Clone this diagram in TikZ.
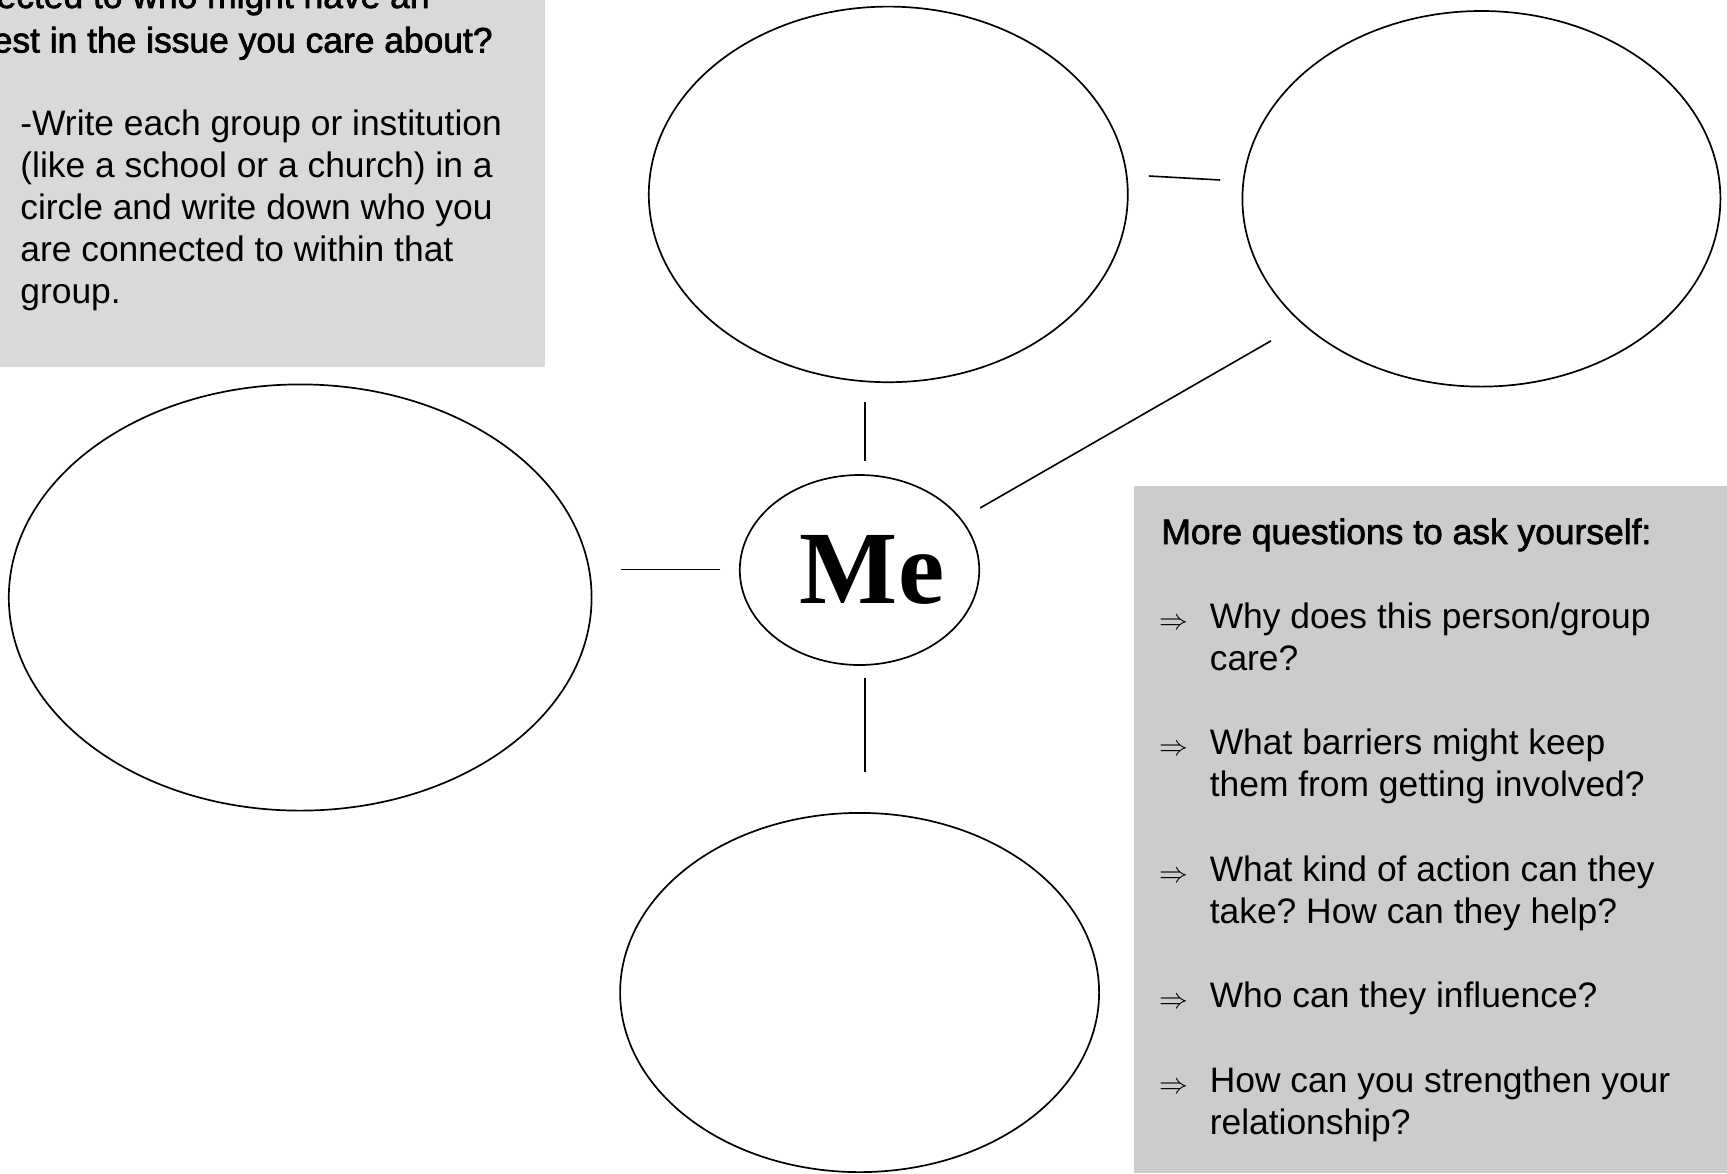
\documentclass[tikz,border=0pt]{standalone}
\usepackage{fontspec}
\setmainfont{Liberation Sans}
\newfontfamily\headfont{Liberation Sans}[FakeBold=2]
\newfontfamily\mefont{Liberation Serif}
\usetikzlibrary{shapes.geometric,calc}
\definecolor{panelA}{HTML}{D9D9D9}
\definecolor{panelB}{HTML}{CCCCCC}
\frenchspacing
\tikzset{
  bubble/.style={draw=black, line width=0.85pt, ellipse, inner sep=0pt, fill=white},
  link/.style={draw=black, line width=0.8pt},
  body/.style={inner sep=0pt, anchor=base west, font=\fontsize{17.7}{21.1}\selectfont},
  head/.style={inner sep=0pt, font=\headfont\fontsize{17.7}{21.1}\selectfont},
  arrowmark/.style={inner sep=0pt, anchor=base west, font=\fontsize{15}{15}\selectfont},
}
\begin{document}
\begin{tikzpicture}[x=0.5pt,y=-0.5pt]
\useasboundingbox (0,0) rectangle (1727,1173);
\fill[white] (0,0) rectangle (1727,1173);
% panels
\fill[panelA] (0,0) rectangle (545,367);
\fill[panelB] (1134,486) rectangle (1727,1173);

% bubbles
\node[bubble, minimum width=239.5pt, minimum height=187.8pt] (top) at (888.3,194.4) {};
\node[bubble, minimum width=239pt, minimum height=187.8pt] (topright) at (1481.4,198.8) {};
\node[bubble, minimum width=291.4pt, minimum height=213.1pt] (left) at (300.2,597.5) {};
\node[bubble, minimum width=239.5pt, minimum height=179.6pt] (bottom) at (859.6,992.5) {};
\node[bubble, minimum width=119.5pt, minimum height=95pt,
      font=\mefont\bfseries\fontsize{52}{52}\selectfont] (me) at (859.5,570) {\hspace*{12.5pt}Me};

% connectors
\draw[link] ([shift={(5.5,-13.5)}]me.north) -- ([shift={(-23.3,18.8)}]top.south);
\draw[link] ([shift={(5.5,12)}]me.south) -- ([shift={(5.4,-39.8)}]bottom.north);
\draw[link] ([shift={(-18.6,-0.6)}]me.west) -- ([shift={(28.5,-28.1)}]left.east);
\draw[link] ([shift={(0,-62)}]me.east) -- ([shift={(-210.4,-46.6)}]topright.south);
\draw[link] ([shift={(20.2,-18.4)}]top.east) -- ([shift={(-21.4,-18.8)}]topright.west);

% top-left panel text
\node[head, anchor=base east] (t1) at (430,8) {ected to who might have an};
\node[head, anchor=base east] (t2) at (493,52.5) {est in the issue you care about?};
\node[body] (lbody) at (20,135) {\parbox[t]{300pt}{-Write each group or institution\\(like a school or a church) in a\\circle and write down who you\\are connected to within that\\group.}};

% right panel text
\node[head, anchor=base west] (rhead) at (1161,544) {More questions to ask yourself:};
\node[arrowmark] (a1) at (1159,629.5) {$\Rightarrow$};
\node[body] (q1) at (1209.4,628.3) {\parbox[t]{300pt}{Why does this person/group\\care?}};
\node[arrowmark] (a2) at (1159,755.5) {$\Rightarrow$};
\node[body] (q2) at (1209.4,754.4) {\parbox[t]{300pt}{What barriers might keep\\them from getting involved?}};
\node[arrowmark] (a3) at (1159,882.2) {$\Rightarrow$};
\node[body] (q3) at (1209.4,881.1) {\parbox[t]{300pt}{What kind of action can they\\take? How can they help?}};
\node[arrowmark] (a4) at (1159,1008.9) {$\Rightarrow$};
\node[body] (q4) at (1209.4,1007.8) {\parbox[t]{300pt}{Who can they influence?}};
\node[arrowmark] (a5) at (1159,1093.7) {$\Rightarrow$};
\node[body] (q5) at (1209.4,1092.6) {\parbox[t]{300pt}{How can you strengthen your\\relationship?}};
\end{tikzpicture}
\end{document}
